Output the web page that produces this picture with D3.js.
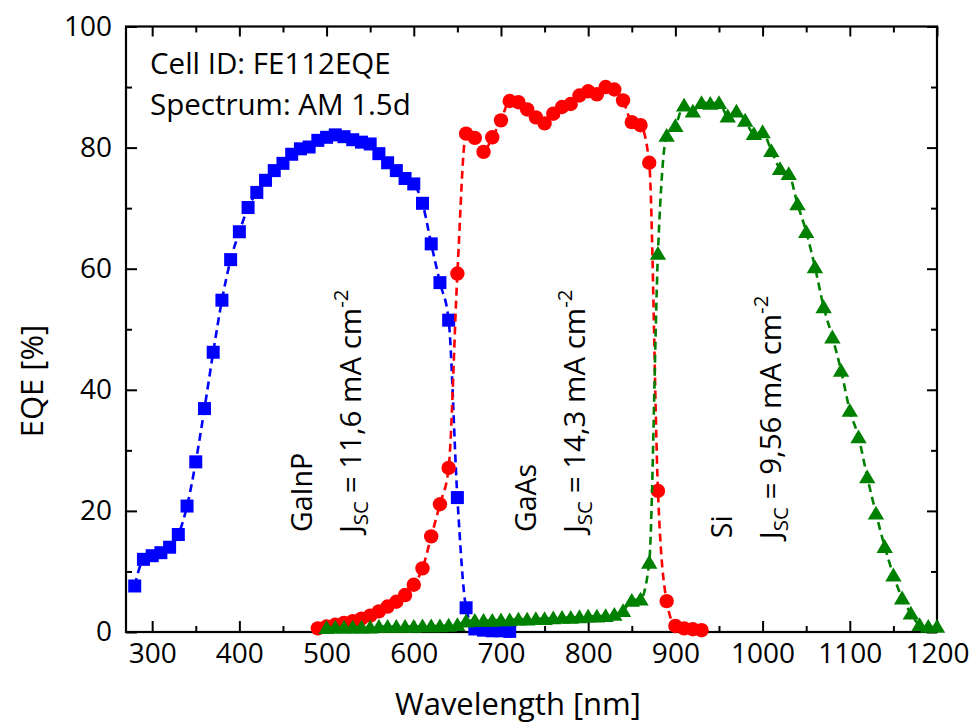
<!DOCTYPE html>
<html><head><meta charset="utf-8">
<script src="https://cdn.jsdelivr.net/npm/d3@7"></script>
<style>
body{margin:0;background:#fff}
text{font-family:"Open Sans",sans-serif;fill:#000}
</style>
</head><body>
<svg id="c" width="976" height="723"></svg>
<script>
// ---- data ----
const wlGaInP = [280,290,300,310,320,330,340,350,360,370,380,390,400,410,420,430,440,450,460,470,480,490,500,510,520,530,540,550,560,570,580,590,600,610,620,630,640,650,660,670,680,690,700,710];
const eqeGaInP = [7.6,12.0,12.6,13.1,14.0,16.1,20.8,28.1,36.9,46.2,54.8,61.5,66.1,70.1,72.6,74.6,76.2,77.4,78.9,79.8,80.1,81.2,81.7,82.1,81.8,81.3,80.9,80.6,79.0,77.5,76.2,74.9,74.0,70.8,64.1,57.7,51.5,22.2,4.0,0.5,0.3,0.2,0.2,0.1];

const wlGaAs = [490,500,510,520,530,540,550,560,570,580,590,600,610,620,630,640,650,660,670,680,690,700,710,720,730,740,750,760,770,780,790,800,810,820,830,840,850,860,870,880,890,900,910,920,930];
const eqeGaAs = [0.6,0.9,1.2,1.5,1.8,2.2,2.7,3.4,4.2,5.0,6.1,7.8,10.5,15.8,21.1,27.1,59.2,82.3,81.6,79.3,81.7,84.5,87.7,87.5,86.3,85.0,84.0,85.6,86.7,87.2,88.6,89.3,88.8,90.0,89.6,87.8,84.2,83.7,77.5,23.3,5.1,1.0,0.6,0.45,0.3];

const wlSi = [500,510,520,530,540,550,560,570,580,590,600,610,620,630,640,650,660,670,680,690,700,710,720,730,740,750,760,770,780,790,800,810,820,830,840,850,860,870,880,890,900,910,920,930,940,950,960,970,980,990,1000,1010,1020,1030,1040,1050,1060,1070,1080,1090,1100,1110,1120,1130,1140,1150,1160,1170,1180,1190,1200];
const eqeSi = [0.7,0.8,0.8,0.8,0.8,0.8,0.9,0.9,0.9,0.9,0.9,1.0,1.0,1.0,1.1,1.2,1.8,1.9,1.9,1.9,2.0,2.0,2.1,2.1,2.2,2.2,2.3,2.4,2.4,2.5,2.6,2.6,2.7,2.9,3.5,5.2,5.4,11.5,62.5,82.0,83.6,87.0,86.0,87.4,87.3,87.4,85.2,86.0,84.5,82.3,82.6,79.5,76.5,75.7,70.7,66.1,60.3,53.7,48.7,43.2,36.6,32.2,25.6,19.6,14.1,9.4,5.6,3.1,1.2,0.9,0.9];

const xTicks = [300,400,500,600,700,800,900,1000,1100,1200];
const xMinor = [350,450,550,650,750,850,950,1050,1150];
const yTicks = [0,20,40,60,80,100];
const yMinor = [10,30,50,70,90];

const infoLines = ["Cell ID: FE112EQE","Spectrum: AM 1.5d"];
const cellNames = ["GaInP","GaAs","Si"];
const jscValues = ["11,6","14,3","9,56"];
const labelWl = [483, 740, 965];      // wavelength positions of annotation columns
const labelEqe = [16.5, 16.5, 15.5];
// ---- layout ----
const W = 976, H = 723;
const L = 126, R = 937, T = 26.5, B = 632;
const svg = d3.select("#c");
svg.append("rect").attr("width",W).attr("height",H).attr("fill","#fff");

const x = d3.scaleLinear().domain([270,1200]).range([L,R]);
const y = d3.scaleLinear().domain([0,100]).range([B,T]);

const FS = 28;
function styleAxis(g){ g.select(".domain").remove(); g.selectAll("line").attr("stroke","#000").attr("stroke-width",2); g.selectAll("text").attr("font-size",FS).attr("font-family","Open Sans, sans-serif").attr("fill","#000"); }
svg.append("g").attr("transform",`translate(0,${B})`)
  .call(d3.axisBottom(x).tickValues(xTicks).tickSize(-11).tickPadding(11).tickFormat(d3.format("d"))).call(styleAxis);
svg.append("g").attr("transform",`translate(0,${B})`)
  .call(d3.axisBottom(x).tickValues(xMinor).tickSize(-6).tickFormat("")).call(styleAxis);
svg.append("g").attr("transform",`translate(0,${T})`)
  .call(d3.axisTop(x).tickValues(xTicks).tickSize(-10).tickFormat("")).call(styleAxis);
svg.append("g").attr("transform",`translate(0,${T})`)
  .call(d3.axisTop(x).tickValues(xMinor).tickSize(-6).tickFormat("")).call(styleAxis);
svg.append("g").attr("transform",`translate(${L},0)`)
  .call(d3.axisLeft(y).tickValues(yTicks).tickSize(-11).tickPadding(14).tickFormat(d3.format("d"))).call(styleAxis);
svg.append("g").attr("transform",`translate(${L},0)`)
  .call(d3.axisLeft(y).tickValues(yMinor).tickSize(-6).tickFormat("")).call(styleAxis);
svg.append("g").attr("transform",`translate(${R},0)`)
  .call(d3.axisRight(y).tickValues(yTicks).tickSize(-10).tickFormat("")).call(styleAxis);
svg.append("g").attr("transform",`translate(${R},0)`)
  .call(d3.axisRight(y).tickValues(yMinor).tickSize(-6).tickFormat("")).call(styleAxis);

svg.append("rect").attr("x",L).attr("y",T).attr("width",R-L).attr("height",B-T)
  .attr("fill","none").attr("stroke","#000").attr("stroke-width",2.2);

// axis titles
svg.append("text").attr("x",518).attr("y",715).attr("text-anchor","middle").attr("font-size",31).text("Wavelength [nm]");
svg.append("text").attr("transform","translate(43,381) rotate(-90)").attr("text-anchor","middle").attr("font-size",31).text("EQE [%]");

// info text
infoLines.forEach((t,i)=>{
  svg.append("text").attr("x",150).attr("y",74+i*41).attr("font-size",29.5).text(t);
});

// series
const plot = svg.append("g");
const line = d3.line().x(d=>x(d[0])).y(d=>y(d[1])).curve(d3.curveMonotoneX);
const series = [
  {wl:wlGaInP, v:eqeGaInP, color:"#0000ff", shape:"square"},
  {wl:wlGaAs, v:eqeGaAs, color:"#ff0000", shape:"circle"},
  {wl:wlSi, v:eqeSi, color:"#008000", shape:"triangle"}
];
const tri = "M0,-7.5L8.2,6.3L-8.2,6.3Z";
series.forEach(s=>{
  const pts = s.wl.map((w,i)=>[w,s.v[i]]);
  plot.append("path").attr("d",line(pts)).attr("fill","none").attr("stroke",s.color)
    .attr("stroke-width",2.6).attr("stroke-dasharray","8,5");
  const g = plot.append("g").attr("fill",s.color);
  if(s.shape==="square"){
    g.selectAll("rect").data(pts).join("rect")
      .attr("x",d=>x(d[0])-6.5).attr("y",d=>y(d[1])-6.5).attr("width",13).attr("height",13);
  } else if(s.shape==="circle"){
    g.selectAll("circle").data(pts).join("circle")
      .attr("cx",d=>x(d[0])).attr("cy",d=>y(d[1])).attr("r",7.2);
  } else {
    g.selectAll("path").data(pts).join("path")
      .attr("transform",d=>`translate(${x(d[0])},${y(d[1])})`).attr("d",tri);
  }
});

// annotations (rotated)
cellNames.forEach((n,i)=>{
  const bx = x(labelWl[i]), by = y(labelEqe[i]);
  svg.append("text").attr("transform",`translate(${bx},${by}) rotate(-90)`).attr("font-size",28.5).text(n);
  const t = svg.append("text").attr("transform",`translate(${bx+49},${by+1}) rotate(-90)`).attr("font-size",29.5);
  t.append("tspan").text("J");
  t.append("tspan").attr("font-size",20.5).attr("dy",7).text("SC");
  t.append("tspan").attr("dy",-7).text(` = ${jscValues[i]} mA cm`);
  t.append("tspan").attr("font-size",20.5).attr("dy",-13).text("-2");
});
</script>
</body></html>
